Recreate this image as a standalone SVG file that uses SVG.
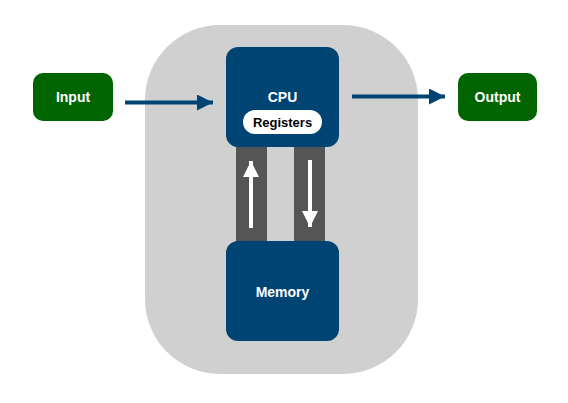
<svg xmlns="http://www.w3.org/2000/svg" width="568" height="403" viewBox="0 0 568 403">
<defs>
<style>
.blue{fill:#004473}
.green{fill:#006400}
.lbl{font-family:"Liberation Sans",Arial,sans-serif;font-weight:bold;font-size:14px;fill:#fff;text-anchor:middle;dominant-baseline:central}
.bar{fill:#555555}
.conn{stroke:#004473;stroke-width:4;fill:none}
.bus{stroke:#fff;stroke-width:4;fill:none}
</style>
<marker id="ah" markerWidth="4" markerHeight="4" refX="4" refY="2" orient="auto" markerUnits="strokeWidth">
<path d="M0,0 L4,2 L0,4 Z" fill="#004473"/>
</marker>
<marker id="wh" markerWidth="4" markerHeight="4" refX="4" refY="2" orient="auto" markerUnits="strokeWidth">
<path d="M0,0 L4,2 L0,4 Z" fill="#fff"/>
</marker>
</defs>
<rect id="system" x="145" y="25" width="273" height="349" rx="75" fill="#d0d0d0"/>
<g id="bars">
<rect class="bar" x="236" y="140" width="31" height="106"/>
<rect class="bar" x="294" y="140" width="31" height="106"/>
</g>
<g id="cpu">
<rect class="blue" x="226" y="47" width="113" height="100" rx="12"/>
<text class="lbl" x="282.5" y="97">CPU</text>
</g>
<g id="registers">
<rect x="243" y="110" width="79" height="24" rx="12" fill="#fff"/>
<text class="lbl" x="282.5" y="122" style="fill:#000;font-size:13px">Registers</text>
</g>
<g id="memory">
<rect class="blue" x="226" y="241" width="113" height="100" rx="12"/>
<text class="lbl" x="282.5" y="292">Memory</text>
</g>
<g id="input">
<rect class="green" x="33" y="73" width="80" height="48" rx="10"/>
<text class="lbl" x="73" y="97">Input</text>
</g>
<g id="output">
<rect class="green" x="458" y="73" width="79" height="48" rx="10"/>
<text class="lbl" x="497.5" y="97">Output</text>
</g>
<g id="connectors">
<line class="conn" x1="125" y1="102.5" x2="213" y2="102.5" marker-end="url(#ah)"/>
<line class="conn" x1="352" y1="96.5" x2="445" y2="96.5" marker-end="url(#ah)"/>
<line class="bus" x1="251" y1="228" x2="251" y2="161" marker-end="url(#wh)"/>
<line class="bus" x1="310" y1="160" x2="310" y2="227" marker-end="url(#wh)"/>
</g>
</svg>
